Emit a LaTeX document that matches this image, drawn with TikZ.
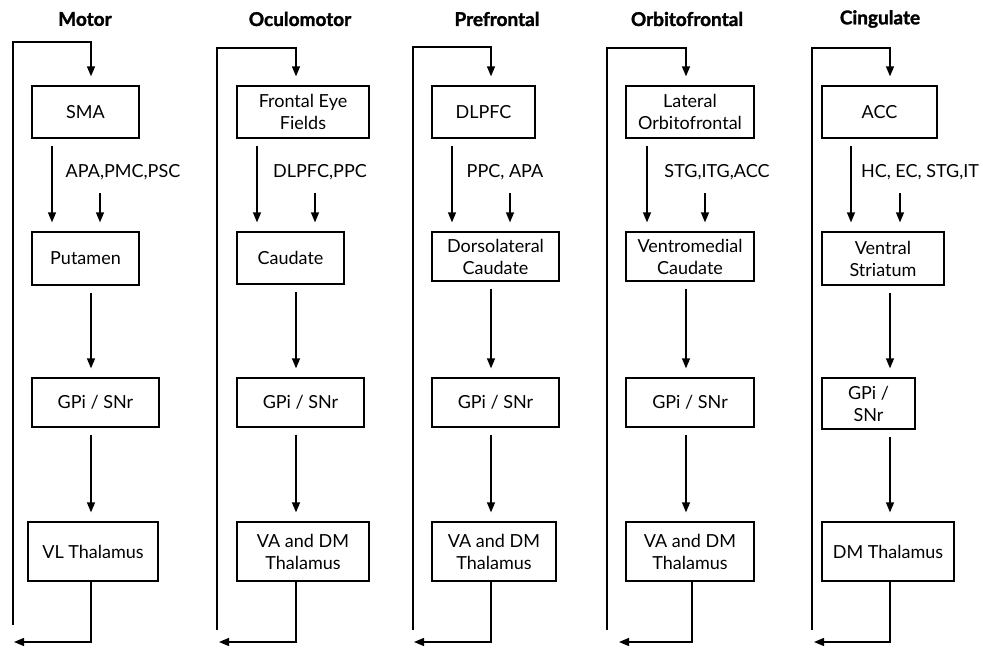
\documentclass[tikz,border=0pt]{standalone}
\usepackage{fontspec}
\setmainfont{Lato}
\newfontfamily\headfont[FakeBold=1.6]{Lato}
\usetikzlibrary{arrows.meta}

\begin{document}
\begin{tikzpicture}[x=1pt, y=-1pt, line width=1.3pt,
% common options for the boxes:
block/.style = {draw, align=center, inner sep=0, font=\fontsize{18}{22}\selectfont},
% common options for the arrows:
flow/.style = {-{Triangle[length=10pt,width=8pt]}, shorten <=7pt, shorten >=9pt},
back/.style = {-{Triangle[length=10pt,width=8pt]}},
% loop titles and cortical inputs:
title/.style = {font=\headfont\bfseries\fontsize{19}{22}\selectfont},
input/.style = {inner sep=0, font=\fontsize{18}{22}\selectfont}]
\useasboundingbox (0,0) rectangle (983,648);
% titles
\node[title] (MT) at (85,19) {Motor};
\node[title] (OT) at (300,19) {Oculomotor};
\node[title] (PT) at (497,19) {Prefrontal};
\node[title] (FT) at (687,19) {Orbitofrontal};
\node[title] (CT) at (880,19) {Cingulate};
% Motor
\node[block, minimum width=107pt, minimum height=52pt] (M1) at (85.5,112) {SMA};
\node[block, minimum width=107pt, minimum height=53pt] (M2) at (85.5,258.5) {Putamen};
\node[block, minimum width=127pt, minimum height=49pt] (M3) at (95.5,402.5) {GPi / SNr};
\node[block, minimum width=130pt, minimum height=59pt] (M4) at (93,551.5) {VL Thalamus};
\node[input] (MI) at (123,172) {APA,PMC,PSC};
\coordinate (Mx) at (91,0);
\coordinate (Ml) at (52,0);
\coordinate (Mr) at (100,193);
\coordinate (Ma) at (13,42);
\coordinate (Mb) at (13,625);
\coordinate (Me) at (14,642);
% Oculomotor
\node[block, minimum width=132pt, minimum height=52pt] (O1) at (303,112) {Frontal Eye\\Fields};
\node[block, minimum width=107pt, minimum height=52pt] (O2) at (290.5,258) {Caudate};
\node[block, minimum width=127pt, minimum height=49pt] (O3) at (300.5,402.5) {GPi / SNr};
\node[block, minimum width=132pt, minimum height=59pt] (O4) at (303,551.5) {VA and DM\\Thalamus};
\node[input] (OI) at (320,172) {DLPFC,PPC};
\coordinate (Ox) at (296,0);
\coordinate (Ol) at (257,0);
\coordinate (Or) at (315,193);
\coordinate (Oa) at (217,48);
\coordinate (Ob) at (217,630);
\coordinate (Oe) at (219,642);
% Prefrontal
\node[block, minimum width=103pt, minimum height=52pt] (P1) at (483.5,112) {DLPFC};
\node[block, minimum width=127pt, minimum height=49pt] (P2) at (495.5,256.5) {Dorsolateral\\Caudate};
\node[block, minimum width=127pt, minimum height=49pt] (P3) at (495.5,402.5) {GPi / SNr};
\node[block, minimum width=124pt, minimum height=59pt] (P4) at (494,551.5) {VA and DM\\Thalamus};
\node[input] (PI) at (505,172) {PPC, APA};
\coordinate (Px) at (491,0);
\coordinate (Pl) at (452,0);
\coordinate (Pr) at (510,193);
\coordinate (Pa) at (413,47);
\coordinate (Pb) at (413,630);
\coordinate (Pe) at (414,642);
% Orbitofrontal
\node[block, minimum width=128pt, minimum height=52pt] (F1) at (690,112) {Lateral\\Orbitofrontal};
\node[block, minimum width=128pt, minimum height=49pt] (F2) at (690,256.5) {Ventromedial\\Caudate};
\node[block, minimum width=128pt, minimum height=49pt] (F3) at (690,402.5) {GPi / SNr};
\node[block, minimum width=128pt, minimum height=59pt] (F4) at (690,551.5) {VA and DM\\Thalamus};
\node[input] (FI) at (717,172) {STG,ITG,ACC};
\coordinate (Fx) at (686,0);
\coordinate (Fy) at (692,0);
\coordinate (Fl) at (647,0);
\coordinate (Fr) at (705,193);
\coordinate (Fa) at (607,48);
\coordinate (Fb) at (607,630);
\coordinate (Fe) at (619,642);
% Cingulate
\node[block, minimum width=115pt, minimum height=52pt] (C1) at (879.5,112) {ACC};
\node[block, minimum width=122pt, minimum height=53pt] (C2) at (883,258.5) {Ventral\\Striatum};
\node[block, minimum width=93pt, minimum height=51pt] (C3) at (868.5,403.5) {GPi /\\SNr};
\node[block, minimum width=132pt, minimum height=59pt] (C4) at (888,551.5) {DM Thalamus};
\node[input] (CI) at (920,172) {HC, EC, STG,IT};
\coordinate (Cx) at (890,0);
\coordinate (Cl) at (851,0);
\coordinate (Cr) at (900,193);
\coordinate (Ca) at (812,48);
\coordinate (Cb) at (812,630);
\coordinate (Ce) at (814,642);
% connectors
\draw[flow, shorten <=0pt] (Mb) -- (Ma) -| (M1.north -| Mx);
\draw[flow] (M1.south -| Ml) -- (M2.north -| Ml);
\draw[flow, shorten <=0pt] (Mr) -- (M2.north -| Mr);
\draw[flow] (M2.south -| Mx) -- (M3.north -| Mx);
\draw[flow] (M3.south -| Mx) -- (M4.north -| Mx);
\draw[back] (M4.south -| Mx) |- (Me);
\draw[flow, shorten <=0pt] (Ob) -- (Oa) -| (O1.north -| Ox);
\draw[flow] (O1.south -| Ol) -- (O2.north -| Ol);
\draw[flow, shorten <=0pt] (Or) -- (O2.north -| Or);
\draw[flow] (O2.south -| Ox) -- (O3.north -| Ox);
\draw[flow] (O3.south -| Ox) -- (O4.north -| Ox);
\draw[back] (O4.south -| Ox) |- (Oe);
\draw[flow, shorten <=0pt] (Pb) -- (Pa) -| (P1.north -| Px);
\draw[flow] (P1.south -| Pl) -- (P2.north -| Pl);
\draw[flow, shorten <=0pt] (Pr) -- (P2.north -| Pr);
\draw[flow] (P2.south -| Px) -- (P3.north -| Px);
\draw[flow] (P3.south -| Px) -- (P4.north -| Px);
\draw[back] (P4.south -| Px) |- (Pe);
\draw[flow, shorten <=0pt] (Fb) -- (Fa) -| (F1.north -| Fx);
\draw[flow] (F1.south -| Fl) -- (F2.north -| Fl);
\draw[flow, shorten <=0pt] (Fr) -- (F2.north -| Fr);
\draw[flow] (F2.south -| Fx) -- (F3.north -| Fx);
\draw[flow] (F3.south -| Fx) -- (F4.north -| Fx);
\draw[back] (F4.south -| Fy) |- (Fe);
\draw[flow, shorten <=0pt] (Cb) -- (Ca) -| (C1.north -| Cx);
\draw[flow] (C1.south -| Cl) -- (C2.north -| Cl);
\draw[flow, shorten <=0pt] (Cr) -- (C2.north -| Cr);
\draw[flow] (C2.south -| Cx) -- (C3.north -| Cx);
\draw[flow] (C3.south -| Cx) -- (C4.north -| Cx);
\draw[back] (C4.south -| Cx) |- (Ce);
\end{tikzpicture}
\end{document}
